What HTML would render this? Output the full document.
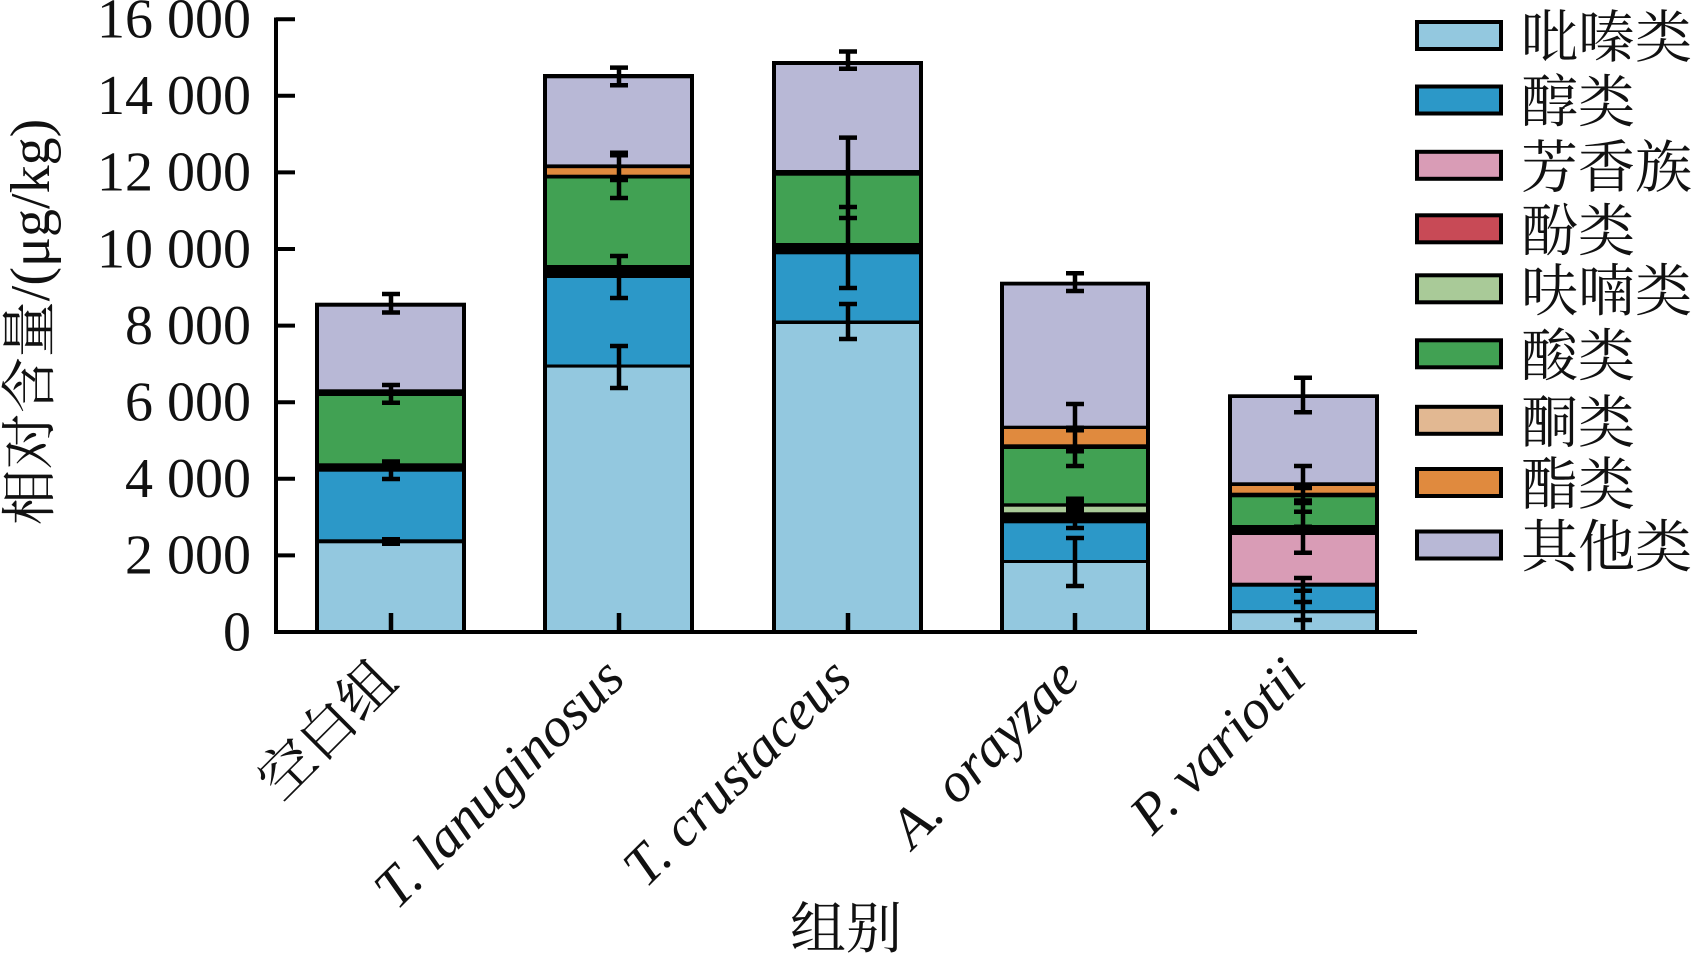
<!DOCTYPE html>
<html><head><meta charset="utf-8"><style>
html,body{margin:0;padding:0;background:#fff;}
svg{display:block;}
.num{font-family:"Liberation Serif",serif;font-size:56px;fill:#111;}
.cjk{font-family:"Liberation Serif","Noto Serif CJK SC",serif;font-size:56px;fill:#111;}
.it{font-family:"Liberation Serif",serif;font-style:italic;font-size:56px;fill:#111;}
</style></head><body>
<svg width="1696" height="956" viewBox="0 0 1696 956" xmlns="http://www.w3.org/2000/svg">
<rect width="1696" height="956" fill="#fff"/>

<!-- Bars -->
<g>
<!-- Bar 1 -->
<rect x="315" y="302.7" width="151" height="331" fill="#000"/>
<rect x="319" y="306.7" width="143" height="82.6" fill="#B8B8D6"/>
<rect x="319" y="396" width="143" height="67.3" fill="#41A153"/>
<rect x="319" y="471.7" width="143" height="67.6" fill="#2C98C8"/>
<rect x="319" y="543.3" width="143" height="88.7" fill="#93C8DF"/>
<!-- Bar 2 -->
<rect x="543" y="74" width="151" height="560" fill="#000"/>
<rect x="547" y="78.3" width="143" height="86.1" fill="#B8B8D6"/>
<rect x="547" y="168.2" width="143" height="6.5" fill="#E08A3E"/>
<rect x="547" y="178.5" width="143" height="86.5" fill="#41A153"/>
<rect x="547" y="278" width="143" height="86.5" fill="#2C98C8"/>
<rect x="547" y="367.6" width="143" height="264.4" fill="#93C8DF"/>
<!-- Bar 3 -->
<rect x="772" y="61" width="151" height="573" fill="#000"/>
<rect x="776" y="65" width="143" height="105" fill="#B8B8D6"/>
<rect x="776" y="175.7" width="143" height="67.3" fill="#41A153"/>
<rect x="776" y="254.3" width="143" height="66.2" fill="#2C98C8"/>
<rect x="776" y="324" width="143" height="308" fill="#93C8DF"/>
<!-- Bar 4 -->
<rect x="1000" y="281.7" width="150" height="352" fill="#000"/>
<rect x="1004" y="285.5" width="142" height="140.2" fill="#B8B8D6"/>
<rect x="1004" y="429" width="142" height="15.3" fill="#E08A3E"/>
<rect x="1004" y="449" width="142" height="54.3" fill="#41A153"/>
<rect x="1004" y="506.7" width="142" height="5.6" fill="#A9CA98"/>
<rect x="1004" y="523.3" width="142" height="36.7" fill="#2C98C8"/>
<rect x="1004" y="563" width="142" height="69" fill="#93C8DF"/>
<!-- Bar 5 -->
<rect x="1228" y="394.3" width="151" height="239" fill="#000"/>
<rect x="1232" y="398" width="143" height="84.3" fill="#B8B8D6"/>
<rect x="1232" y="486" width="143" height="6.7" fill="#E08A3E"/>
<rect x="1232" y="497.3" width="143" height="27.7" fill="#41A153"/>
<rect x="1232" y="535" width="143" height="47.7" fill="#D99CB6"/>
<rect x="1232" y="586.7" width="143" height="23.3" fill="#2C98C8"/>
<rect x="1232" y="613.3" width="143" height="18.7" fill="#93C8DF"/>
</g>

<!-- Error bars -->
<g stroke="#000" stroke-width="4.5" fill="none">
<!-- bar1 cx 391 -->
<path d="M391 294V312.5 M382 294H400 M382 312.5H400"/>
<path d="M391 385V402.7 M382 385H400 M382 402.7H400"/>
<path d="M391 461.5V479 M382 461.5H400 M382 479H400"/>
<rect x="382" y="537" width="18" height="9" fill="#000" stroke="none"/>
<!-- bar2 cx 619 -->
<path d="M619 67.6V85.2 M610 67.6H628 M610 85.2H628"/>
<path d="M619 154V198 M610 180H628 M610 198H628"/>
<path d="M610 154H628" stroke-width="7"/>
<path d="M619 256V298 M610 256H628 M610 298H628"/>
<path d="M619 346V388 M610 346H628 M610 388H628"/>
<!-- bar3 cx 848 -->
<path d="M848 51.5V68.7 M839 51.5H857 M839 68.7H857"/>
<path d="M848 137.6V288 M839 137.6H857 M839 207H857 M839 218H857 M839 288H857"/>
<path d="M848 304V339 M839 304H857 M839 339H857"/>
<!-- bar4 cx 1075 -->
<path d="M1075 273.3V291 M1066 273.3H1084 M1066 291H1084"/>
<path d="M1075 404V466 M1066 404H1084 M1066 466H1084"/>
<path d="M1066 429H1084 M1066 450H1084" stroke-width="7"/>
<path d="M1075 500V528 M1066 518H1084 M1066 528H1084"/>
<path d="M1066 500H1084 M1066 510H1084" stroke-width="7"/>
<path d="M1075 538V586 M1066 538H1084 M1066 586H1084"/>
<!-- bar5 cx 1303 -->
<path d="M1303 377.7V412.3 M1294 377.7H1312 M1294 412.3H1312"/>
<path d="M1303 466V552.7 M1294 466H1312 M1294 511.7H1312 M1294 552.7H1312"/>
<path d="M1294 486.7H1312 M1294 501.7H1312 M1294 528H1312" stroke-width="7"/>
<path d="M1303 578V632 M1294 578H1312 M1294 590.7H1312 M1294 602H1312 M1294 620H1312"/>
<!-- x ticks -->
<path d="M391 613V632 M619 613V632 M848 613V632 M1075 613V632"/>
</g>

<!-- Axes -->
<g stroke="#000" stroke-width="4" fill="none">
<path d="M276 17.5V634"/>
<path d="M274 632H1417"/>
<path d="M276 19.2H295 M276 95.8H295 M276 172.4H295 M276 249H295 M276 325.6H295 M276 402.2H295 M276 478.8H295 M276 555.4H295"/>
</g>

<!-- Y tick labels -->
<g class="num" text-anchor="end">
<text x="251" y="37.5">16 000</text>
<text x="251" y="114.1">14 000</text>
<text x="251" y="190.7">12 000</text>
<text x="251" y="267.3">10 000</text>
<text x="251" y="343.9">8 000</text>
<text x="251" y="420.5">6 000</text>
<text x="251" y="497.1">4 000</text>
<text x="251" y="573.7">2 000</text>
<text x="251" y="650.3">0</text>
</g>

<!-- Y title -->
<text class="cjk" text-anchor="middle" transform="translate(49,322) rotate(-90)">相对含量/(μg/kg)</text>

<!-- X tick labels -->
<text class="cjk" text-anchor="end" transform="translate(400,684) rotate(-45)">空白组</text>
<text class="it" text-anchor="end" transform="translate(627,681) rotate(-45)">T. lanuginosus</text>
<text class="it" text-anchor="end" transform="translate(854,681) rotate(-45)">T. crustaceus</text>
<text class="it" text-anchor="end" transform="translate(1082,681) rotate(-45)">A. orayzae</text>
<text class="it" text-anchor="end" transform="translate(1308,681) rotate(-45)">P. variotii</text>

<!-- X title -->
<text class="cjk" text-anchor="middle" x="846" y="948">组别</text>

<!-- Legend -->
<g>
<rect x="1417" y="22" width="84" height="27" fill="#93C8DF" stroke="#000" stroke-width="4"/>
<rect x="1417" y="86.5" width="84" height="27" fill="#2C98C8" stroke="#000" stroke-width="4"/>
<rect x="1417" y="151.8" width="84" height="27" fill="#D99CB6" stroke="#000" stroke-width="4"/>
<rect x="1417" y="215.3" width="84" height="27" fill="#C84A56" stroke="#000" stroke-width="4"/>
<rect x="1417" y="275.3" width="84" height="27" fill="#A9CA98" stroke="#000" stroke-width="4"/>
<rect x="1417" y="340.3" width="84" height="27" fill="#41A153" stroke="#000" stroke-width="4"/>
<rect x="1417" y="406.8" width="84" height="27" fill="#E2B892" stroke="#000" stroke-width="4"/>
<rect x="1417" y="469" width="84" height="27" fill="#E08A3E" stroke="#000" stroke-width="4"/>
<rect x="1417" y="531.5" width="84" height="27" fill="#B8B8D6" stroke="#000" stroke-width="4"/>
</g>
<g class="cjk" style="font-size:57px">
<text x="1521" y="57">吡嗪类</text>
<text x="1521" y="121.5">醇类</text>
<text x="1521" y="186.8">芳香族</text>
<text x="1521" y="250.3">酚类</text>
<text x="1521" y="310.3">呋喃类</text>
<text x="1521" y="375.3">酸类</text>
<text x="1521" y="441.8">酮类</text>
<text x="1521" y="504">酯类</text>
<text x="1521" y="566.5">其他类</text>
</g>
</svg>
</body></html>
